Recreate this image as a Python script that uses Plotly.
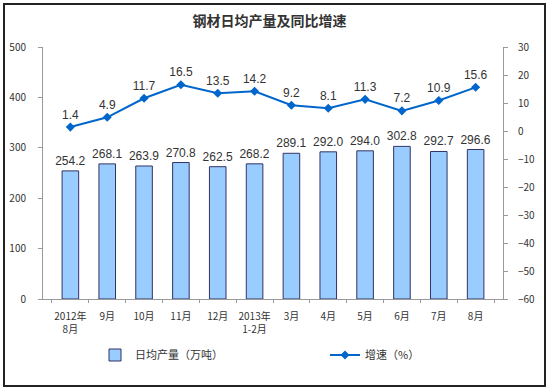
import plotly.graph_objects as go

categories = ["2012年<br>8月", "9月", "10月", "11月", "12月", "2013年<br>1-2月",
              "3月", "4月", "5月", "6月", "7月", "8月"]
output_values = [254.2, 268.1, 263.9, 270.8, 262.5, 268.2, 289.1, 292.0, 294.0, 302.8, 292.7, 296.6]
growth_values = [1.4, 4.9, 11.7, 16.5, 13.5, 14.2, 9.2, 8.1, 11.3, 7.2, 10.9, 15.6]
left_ticks = [0, 100, 200, 300, 400, 500]
right_ticks = [-60, -50, -40, -30, -20, -10, 0, 10, 20, 30]

FONT = "Noto Sans CJK SC, Liberation Sans, sans-serif"

fig = go.Figure()
fig.add_trace(go.Bar(
    x=categories, y=output_values, name="日均产量（万吨）",
    marker=dict(color="#99CCFF", line=dict(color="#333366", width=1)),
    width=0.45,
    text=[f"{v:.1f}" for v in output_values], textposition="outside",
    constraintext="none",
    textfont=dict(size=12, color="#333333", family="Liberation Sans, Arial"),
    cliponaxis=False, legend="legend",
))
fig.add_trace(go.Scatter(
    x=categories, y=growth_values, name="增速（%）", yaxis="y2",
    mode="lines+markers+text",
    line=dict(color="#0066CC", width=2),
    marker=dict(symbol="diamond", size=7, color="#0066CC"),
    text=[f"{v:.1f}" for v in growth_values], textposition="top center",
    textfont=dict(size=12, color="#333333", family="Liberation Sans, Arial"),
    cliponaxis=False, legend="legend2",
))

legend_common = dict(xref="container", yref="container", xanchor="left", yanchor="middle",
                     y=1 - 355 / 391, font=dict(size=11, color="#333333", family=FONT),
                     bgcolor="rgba(0,0,0,0)")

fig.update_layout(
    width=550, height=391,
    margin=dict(l=43, r=47, t=47, b=92, autoexpand=False),
    paper_bgcolor="white", plot_bgcolor="white",
    font=dict(family=FONT, color="#333333", size=10),
    title=dict(text="<b>钢材日均产量及同比增速</b>", x=0.49, xanchor="center", y=0.945, yanchor="middle",
               font=dict(size=14, color="#333333", family=FONT)),
    showlegend=True,
    legend=dict(x=95 / 550, **legend_common),
    legend2=dict(x=325 / 550, **legend_common),
    xaxis=dict(showline=True, linecolor="#999999", linewidth=1, ticks="outside",
               tickcolor="#999999", ticklen=3, tickson="boundaries", tickangle=0,
               tickfont=dict(size=10, color="#333333"), showgrid=False, automargin=False,
               ticklabelstandoff=8),
    yaxis=dict(range=[0, 500], tickvals=left_ticks, showline=True, linecolor="#999999",
               linewidth=1, ticks="outside", tickcolor="#999999", ticklen=4,
               showgrid=False, zeroline=False, tickfont=dict(size=10, color="#333333"),
               ticklabelstandoff=10, automargin=False),
    yaxis2=dict(range=[-60, 30], tickvals=right_ticks, overlaying="y", side="right",
                showline=True, linecolor="#999999", linewidth=1, ticks="outside",
                tickcolor="#999999", ticklen=4, showgrid=False, zeroline=False,
                tickfont=dict(size=10, color="#333333"), ticklabelstandoff=8, automargin=False),
    shapes=[dict(type="rect", xref="paper", yref="paper",
                 x0=(4 - 43) / 460, x1=(545 - 43) / 460,
                 y0=(299 - 386) / 252, y1=(299 - 4) / 252,
                 line=dict(color="#222222", width=2), fillcolor="rgba(0,0,0,0)",
                 layer="above")],
)

fig.write_html("out.html", config={"displayModeBar": False},
               post_script="document.body.style.margin='0';")
